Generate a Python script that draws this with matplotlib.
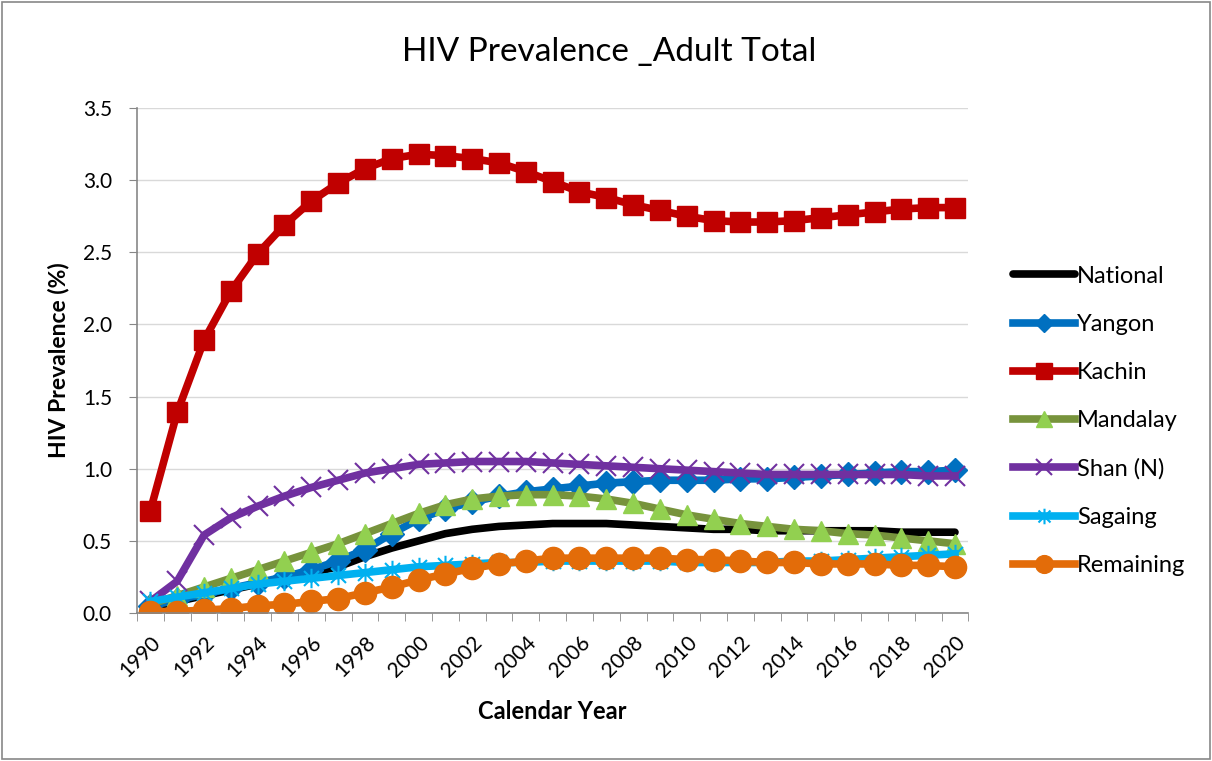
import numpy as np
import matplotlib
matplotlib.use("Agg")
import matplotlib.pyplot as plt
from matplotlib.path import Path

plt.rcParams['font.family'] = ['Lato', 'DejaVu Sans']

years = list(range(1990, 2021))

national = [0.04, 0.08, 0.12, 0.16, 0.20, 0.24, 0.28, 0.32, 0.39, 0.45, 0.50, 0.55, 0.58, 0.60, 0.61, 0.62,
            0.62, 0.62, 0.61, 0.60, 0.59, 0.58, 0.58, 0.57, 0.57, 0.57, 0.57, 0.57, 0.56, 0.56, 0.56]
yangon = [0.05, 0.09, 0.13, 0.17, 0.21, 0.25, 0.30, 0.36, 0.44, 0.55, 0.65, 0.72, 0.77, 0.81, 0.84, 0.86,
          0.88, 0.90, 0.91, 0.92, 0.92, 0.92, 0.93, 0.93, 0.94, 0.95, 0.96, 0.97, 0.98, 0.98, 0.99]
kachin = [0.71, 1.39, 1.89, 2.23, 2.49, 2.69, 2.855, 2.98, 3.08, 3.15, 3.18, 3.17, 3.15, 3.12, 3.06, 2.99,
          2.92, 2.88, 2.83, 2.79, 2.75, 2.72, 2.71, 2.71, 2.72, 2.74, 2.76, 2.78, 2.80, 2.81, 2.81]
mandalay = [0.06, 0.12, 0.18, 0.24, 0.30, 0.36, 0.42, 0.48, 0.55, 0.62, 0.69, 0.75, 0.79, 0.81, 0.82, 0.82,
            0.81, 0.79, 0.76, 0.72, 0.68, 0.65, 0.62, 0.60, 0.58, 0.57, 0.55, 0.54, 0.52, 0.50, 0.48]
shan = [0.08, 0.22, 0.54, 0.66, 0.74, 0.81, 0.87, 0.92, 0.97, 1.00, 1.03, 1.04, 1.05, 1.05, 1.05, 1.04,
        1.03, 1.02, 1.01, 1.00, 0.99, 0.98, 0.97, 0.96, 0.96, 0.96, 0.96, 0.96, 0.96, 0.95, 0.95]
sagaing = [0.08, 0.11, 0.14, 0.17, 0.20, 0.22, 0.24, 0.26, 0.28, 0.30, 0.32, 0.33, 0.34, 0.35, 0.35, 0.36,
           0.36, 0.36, 0.36, 0.36, 0.35, 0.35, 0.35, 0.35, 0.36, 0.36, 0.37, 0.38, 0.39, 0.40, 0.41]
remaining = [0.01, 0.01, 0.02, 0.03, 0.05, 0.06, 0.08, 0.10, 0.14, 0.18, 0.23, 0.27, 0.31, 0.34, 0.36, 0.38,
             0.38, 0.38, 0.38, 0.38, 0.37, 0.37, 0.36, 0.35, 0.35, 0.34, 0.34, 0.34, 0.33, 0.33, 0.32]

# Excel-style "star" marker: an x with a vertical bar
star = Path([(-1, -1), (1, 1), (-1, 1), (1, -1), (0, -1.3), (0, 1.3)],
            [Path.MOVETO, Path.LINETO, Path.MOVETO, Path.LINETO, Path.MOVETO, Path.LINETO])

fig = plt.figure(figsize=(12.12, 7.61), dpi=100)
ax = fig.add_axes([0.113, 0.1945, 0.686, 0.6635])

lw = 5.5
ax.plot(years, national, color='black', lw=lw, solid_capstyle='round', label='National')
ax.plot(years, yangon, color='#0070C0', lw=lw, marker='D', ms=12, label='Yangon')
ax.plot(years, kachin, color='#C00000', lw=lw, marker='s', ms=14, label='Kachin')
ax.plot(years, mandalay, color='#77933C', lw=lw, marker='^', ms=15,
        mfc='#92D050', mec='#92D050', label='Mandalay')
ax.plot(years, shan, color='#7030A0', lw=lw, marker='x', ms=14, mew=1.5, label='Shan (N)')
ax.plot(years, sagaing, color='#00B0F0', lw=lw, marker=star, ms=14, mew=1.5, label='Sagaing')
ax.plot(years, remaining, color='#E36C09', lw=lw, marker='o', ms=16, label='Remaining')

ax.set_xlim(1989.5, 2020.5)
ax.set_ylim(0, 3.5)
ax.set_yticks(np.arange(0, 3.51, 0.5))
ax.set_yticklabels(['%.1f' % v for v in np.arange(0, 3.51, 0.5)], fontsize=15)
ax.set_xticks(years[::2])
ax.set_xticklabels([str(y) for y in years[::2]], rotation=45, fontsize=15,
                   ha='right', rotation_mode='anchor')
ax.set_xticks(np.arange(1989.5, 2021, 1), minor=True)
ax.tick_params(axis='x', which='major', length=0, pad=14)
ax.tick_params(axis='x', which='minor', length=6, color='#878787')
ax.tick_params(axis='y', length=6, color='#878787', pad=12)
ax.grid(axis='y', color='#D9D9D9', lw=1)
ax.set_axisbelow(True)
for s in ['top', 'right']:
    ax.spines[s].set_visible(False)
for s in ['left', 'bottom']:
    ax.spines[s].set_color('#878787')
    ax.spines[s].set_linewidth(1.2)

fig.text(0.503, 0.932, 'HIV Prevalence _Adult Total', fontsize=24, ha='center', va='center')
ax.set_ylabel('HIV Prevalence (%)', fontsize=16.5, fontweight='bold', labelpad=10)
ax.set_xlabel('Calendar Year', fontsize=17, fontweight='bold', labelpad=14)

fig.legend(loc='center left', bbox_to_anchor=(0.836, 0.447), frameon=False, fontsize=17,
           handlelength=2.6, handletextpad=0.1, labelspacing=1.15, markerscale=0.8,
           borderpad=0, borderaxespad=0)

fig.patches.append(plt.Rectangle((0.002, 0.002), 0.996, 0.996, transform=fig.transFigure,
                                 fill=False, edgecolor='#878787', lw=1.2))

fig.savefig('out.png', dpi=100)
